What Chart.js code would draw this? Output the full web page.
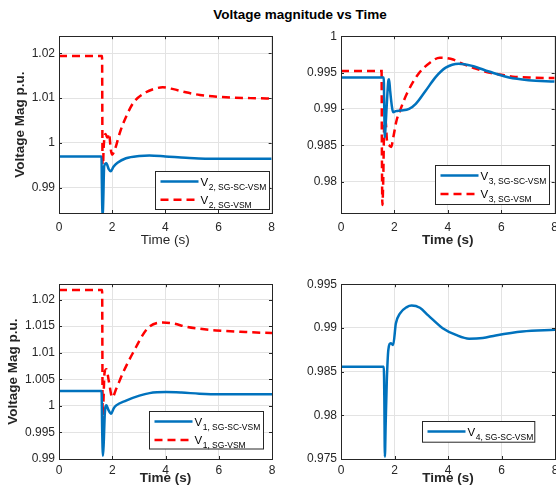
<!DOCTYPE html>
<html>
<head>
<meta charset="utf-8">
<script src="https://cdn.jsdelivr.net/npm/chart.js@4"></script>
<style>
  body { margin: 0; width: 556px; height: 498px; overflow: hidden; background: #fff; position: relative; }
  #title { position: absolute; left: 180px; width: 240px; top: 7px; text-align: center;
           font: bold 13.5px "Liberation Sans", Arial, sans-serif; color: #000; }
  canvas { position: absolute; }
</style>
</head>
<body>
<div id="title">Voltage magnitude vs Time</div>
<canvas id="c2"></canvas>
<canvas id="c3"></canvas>
<canvas id="c1"></canvas>
<canvas id="c4"></canvas>
<script>
// time axis ticks
const xTicks = [0, 2, 4, 6, 8];

// bus 2
const tV2sc = [0, 1.6, 1.61, 1.64, 1.66, 1.70, 1.78, 1.87, 1.95, 2.05, 2.2, 2.52, 3.02, 3.4, 4.0, 4.77, 5.5, 6.2, 7.0, 8];
const vV2sc = [0.9970, 0.9970, 0.9920, 0.9835, 0.9860, 0.9948, 0.9955, 0.9942, 0.9937, 0.9947, 0.9956, 0.9966, 0.9971, 0.9972, 0.9970, 0.9967, 0.9965, 0.99648, 0.99648, 0.99648];
const tV2 = [0, 1.6, 1.62, 1.64, 1.68, 1.75, 1.82, 1.88, 1.95, 2.0, 2.1, 2.3, 2.52, 2.8, 3.27, 3.6, 3.9, 4.3, 4.77, 5.3, 5.77, 6.5, 7.2, 8];
const vV2 = [1.0194, 1.0194, 1.0194, 0.9922, 0.9990, 1.0020, 1.0012, 1.0021, 0.9985, 0.9974, 0.9985, 1.0025, 1.0058, 1.0090, 1.0113, 1.0121, 1.0124, 1.0120, 1.0113, 1.0107, 1.0104, 1.0101, 1.0100, 1.0099];
const yTicksV2 = [0.99, 1, 1.01, 1.02];
const yLimV2 = [0.9844, 1.0238];

// bus 3
const tV3sc = [0, 1.6, 1.62, 1.64, 1.66, 1.72, 1.77, 1.8, 1.84, 1.9, 1.95, 2.05, 2.24, 2.55, 2.8, 3.17, 3.55, 3.92, 4.41, 4.92, 5.54, 6.29, 7.02, 8];
const vV3sc = [0.99432, 0.99432, 0.9900, 0.9861, 0.9870, 0.9910, 0.9938, 0.9941, 0.9925, 0.9905, 0.98955, 0.9897, 0.98978, 0.9900, 0.99069, 0.9925, 0.99441, 0.99568, 0.99623, 0.99591, 0.99514, 0.99432, 0.99396, 0.99377];
const tV3 = [0, 1.52, 1.53, 1.55, 1.58, 1.62, 1.67, 1.72, 1.8, 1.88, 1.96, 2.08, 2.21, 2.46, 2.89, 3.33, 3.7, 3.95, 4.2, 4.54, 5.0, 5.53, 6.0, 6.53, 7.2, 8];
const vV3 = [0.99523, 0.99523, 0.9850, 0.9768, 0.9800, 0.9880, 0.9885, 0.9857, 0.9850, 0.98478, 0.98614, 0.98842, 0.98978, 0.99206, 0.99478, 0.99636, 0.99704, 0.99700, 0.99680, 0.99623, 0.9956, 0.9950, 0.99470, 0.99441, 0.9943, 0.99424];
const yTicksV3 = [0.98, 0.985, 0.99, 0.995, 1];
const yLimV3 = [0.9757, 1];

// bus 1
const tV1sc = [0, 1.6, 1.62, 1.65, 1.68, 1.72, 1.78, 1.85, 1.96, 2.05, 2.15, 2.52, 3.02, 3.4, 4.02, 4.6, 5.27, 6.0, 7.0, 8];
const vV1sc = [1.0028, 1.0028, 0.9960, 0.9906, 0.9930, 0.9985, 1.0001, 0.9993, 0.99852, 0.9995, 1.0001, 1.0010, 1.00193, 1.0024, 1.00259, 1.00250, 1.0023, 1.00218, 1.00217, 1.00217];
const tV1 = [0, 1.6, 1.62, 1.64, 1.67, 1.71, 1.78, 1.87, 2.0, 2.15, 2.4, 2.77, 3.33, 3.9, 4.3, 4.77, 5.3, 5.9, 7, 8];
const vV1 = [1.0218, 1.0218, 1.0218, 0.9970, 1.0010, 1.0062, 1.0069, 1.0047, 1.0016, 1.0032, 1.0062, 1.0099, 1.0146, 1.0157, 1.0155, 1.0149, 1.0145, 1.0142, 1.0139, 1.0137];
const yTicksV1 = [0.99, 0.995, 1, 1.005, 1.01, 1.015, 1.02];
const yLimV1 = [0.99, 1.0229];

// bus 4
const tV4sc = [0, 1.6, 1.62, 1.64, 1.67, 1.71, 1.77, 1.86, 1.95, 2.05, 2.2, 2.46, 2.64, 2.95, 3.26, 3.8, 4.3, 4.79, 5.3, 5.78, 6.78, 8];
const vV4sc = [0.98556, 0.98556, 0.9820, 0.97526, 0.9790, 0.98372, 0.98748, 0.98824, 0.98805, 0.9905, 0.99163, 0.99238, 0.99256, 0.9923, 0.99143, 0.98997, 0.9892, 0.98877, 0.98885, 0.98914, 0.98959, 0.98978];
const yTicksV4 = [0.975, 0.98, 0.985, 0.99, 0.995];
const yLimV4 = [0.975, 0.995];

const FONT = '"Liberation Sans", Arial, sans-serif';
const BLUE = '#0072BD';
const RED = '#FF0000';
const INK = '#262626';

// box + inward ticks + matlab style legend
const framePlugin = {
  id: 'frame',
  afterDatasetsDraw(chart, args, opts) {
    const {ctx, chartArea: a, scales} = chart;
    ctx.save();
    ctx.strokeStyle = INK;
    ctx.lineWidth = 1;
    ctx.beginPath();
    scales.x.ticks.forEach(t => {
      const px = Math.round(scales.x.getPixelForValue(t.value)) + 0.5;
      ctx.moveTo(px, a.bottom); ctx.lineTo(px, a.bottom - 3);
      ctx.moveTo(px, a.top); ctx.lineTo(px, a.top + 3);
    });
    scales.y.ticks.forEach(t => {
      const py = Math.round(scales.y.getPixelForValue(t.value)) + 0.5;
      ctx.moveTo(a.left, py); ctx.lineTo(a.left + 3, py);
      ctx.moveTo(a.right, py); ctx.lineTo(a.right - 3, py);
    });
    ctx.stroke();
    ctx.strokeRect(Math.round(a.left) + 0.5, Math.round(a.top) + 0.5, Math.round(a.width), Math.round(a.height));

    const lg = opts.box;
    const bx = Math.round(a.left + lg.x) + 0.5, by = Math.round(a.top + lg.y) + 0.5;
    ctx.fillStyle = '#fff';
    ctx.fillRect(bx, by, lg.w, lg.h);
    ctx.strokeStyle = INK;
    ctx.strokeRect(bx, by, lg.w, lg.h);
    chart.data.datasets.forEach((ds, i) => {
      const ry = by + 10 + i * lg.gap;
      ctx.strokeStyle = ds.borderColor;
      ctx.lineWidth = ds.borderWidth;
      ctx.setLineDash(ds.borderDash || []);
      ctx.beginPath();
      ctx.moveTo(bx + 5, ry); ctx.lineTo(bx + 43, ry);
      ctx.stroke();
      ctx.setLineDash([]);
      ctx.fillStyle = '#000';
      ctx.textAlign = 'left';
      ctx.textBaseline = 'alphabetic';
      ctx.font = '11.5px ' + FONT;
      ctx.fillText(ds.label, bx + 45, ry + 4);
      const w = ctx.measureText(ds.label).width;
      ctx.font = '8.5px ' + FONT;
      ctx.fillText(ds.sub, bx + 45.5 + w, ry + 8);
    });
    ctx.restore();
  }
};

function fmt(v) {
  return String(parseFloat(v.toFixed(4)));
}

function makeChart(id, series, o) {
  const cv = document.getElementById(id);
  const a = o.area;
  cv.width = a.r - a.l + 70;
  cv.height = a.b - a.t + 50;
  cv.style.left = (a.l - 60) + 'px';
  cv.style.top = (a.t - 10) + 'px';

  return new Chart(cv, {
    type: 'line',
    data: {
      datasets: series.map(s => ({
        label: 'V',
        sub: s.sub,
        data: s.t.map((x, i) => ({x: x, y: s.v[i]})),
        borderColor: s.color,
        borderWidth: 2.5,
        borderDash: s.dash || [],
        pointRadius: 0,
        fill: false,
        clip: 0,
        cubicInterpolationMode: 'monotone'
      }))
    },
    options: {
      responsive: false,
      animation: false,
      events: [],
      layout: { padding: { top: 10, right: 10, left: 0, bottom: 0 } },
      plugins: {
        legend: { display: false },
        tooltip: { enabled: false },
        frame: { box: o.legend }
      },
      scales: {
        x: {
          type: 'linear',
          min: 0, max: 8,
          afterBuildTicks: sc => { sc.ticks = xTicks.map(v => ({value: v})); },
          afterFit: sc => { sc.height = 40; },
          grid: { color: '#e3e3e3', drawTicks: false },
          border: { display: false },
          ticks: { padding: o.xPad, color: INK, font: { size: 12, family: FONT }, maxRotation: 0, autoSkip: false,
                   callback: v => fmt(v) },
          title: { display: true, text: 'Time (s)', color: INK,
                   font: { size: 13.5, family: FONT, weight: o.xBold ? 'bold' : 'normal' },
                   padding: { top: 0, bottom: o.xTitlePad } }
        },
        y: {
          type: 'linear',
          min: o.yLim[0], max: o.yLim[1],
          afterBuildTicks: sc => { sc.ticks = o.yTicks.map(v => ({value: v})); },
          afterFit: sc => { sc.width = 60; },
          grid: { color: '#e3e3e3', drawTicks: false },
          border: { display: false },
          ticks: { padding: 4, color: INK, font: { size: 12, family: FONT }, autoSkip: false,
                   callback: v => fmt(v) },
          title: { display: !!o.yTitle, text: o.yTitle || '', color: INK,
                   font: { size: 13.5, family: FONT, weight: 'bold' },
                   padding: { top: o.yTitlePad || 0, bottom: 0 } }
        }
      }
    },
    plugins: [framePlugin]
  });
}

makeChart('c2', [
  { t: tV2sc, v: vV2sc, color: BLUE, sub: '2, SG-SC-VSM' },
  { t: tV2, v: vV2, color: RED, dash: [8, 5], sub: '2, SG-VSM' }
], { area: {l: 59.3, t: 35, r: 273, b: 213}, yTicks: yTicksV2, yLim: yLimV2,
     yTitle: 'Voltage Mag p.u.', yTitlePad: 12.9, xBold: false, xPad: 7, xTitlePad: 4.2,
     legend: {x: 95.7, y: 135, w: 114, h: 38, gap: 18.3} });

makeChart('c3', [
  { t: tV3sc, v: vV3sc, color: BLUE, sub: '3, SG-SC-VSM' },
  { t: tV3, v: vV3, color: RED, dash: [8, 5], sub: '3, SG-VSM' }
], { area: {l: 341, t: 35, r: 555.5, b: 213.3}, yTicks: yTicksV3, yLim: yLimV3,
     xBold: true, xPad: 7, xTitlePad: 4.5,
     legend: {x: 94.3, y: 128.3, w: 114, h: 39, gap: 18.4} });

makeChart('c1', [
  { t: tV1sc, v: vV1sc, color: BLUE, sub: '1, SG-SC-VSM' },
  { t: tV1, v: vV1, color: RED, dash: [8, 5], sub: '1, SG-VSM' }
], { area: {l: 59.3, t: 282.5, r: 273, b: 459.3}, yTicks: yTicksV1, yLim: yLimV1,
     yTitle: 'Voltage Mag p.u.', yTitlePad: 5.9, xBold: true, xPad: 4.5, xTitlePad: 12.5,
     legend: {x: 90, y: 126.8, w: 114, h: 37.5, gap: 18.6} });

makeChart('c4', [
  { t: tV4sc, v: vV4sc, color: BLUE, sub: '4, SG-SC-VSM' }
], { area: {l: 341, t: 282.5, r: 555.5, b: 459.3}, yTicks: yTicksV4, yLim: yLimV4,
     xBold: true, xPad: 4.5, xTitlePad: 12.5,
     legend: {x: 81, y: 136.8, w: 112.3, h: 20.7, gap: 18} });
</script>
</body>
</html>
